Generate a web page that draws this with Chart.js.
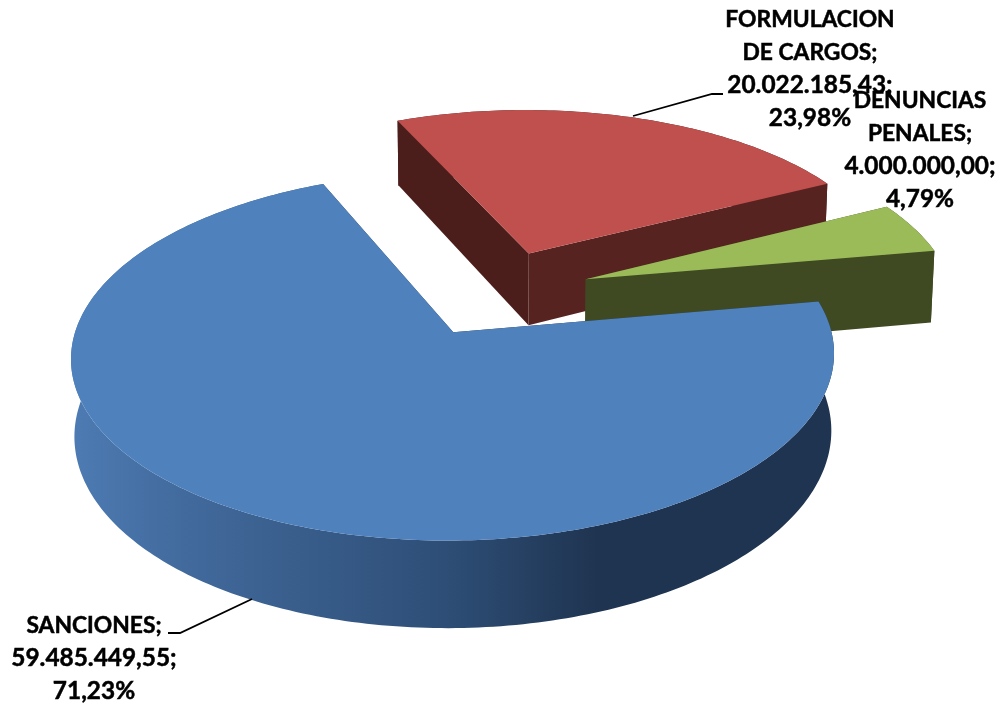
<!DOCTYPE html>
<html>
<head>
<meta charset="utf-8">
<title>Pie</title>
<script src="https://cdn.jsdelivr.net/npm/chart.js@4/dist/chart.umd.js"></script>
<style>
  body { margin: 0; background: #fff; }
  canvas { display: block; }
</style>
</head>
<body>
<canvas id="myChart" width="998" height="704"></canvas>
<script>
var categories = ["SANCIONES", "FORMULACION DE CARGOS", "DENUNCIAS PENALES"];
var amounts = [59485449.55, 20022185.43, 4000000.00];

var labelLines = [["SANCIONES;"], ["FORMULACION", "DE CARGOS;"], ["DENUNCIAS", "PENALES;"]];
var labelCenterX = [94, 810, 920];
var labelFirstBaseline = [633, 27, 108];
var lineStep = 33;
var leaderLines = [
  [[252, 599], [180, 633], [168, 633]],
  [[633, 116], [712, 94], [723, 94]],
  null
];

var topColors = ["#4f81bd", "#c0504d", "#9bbb59"];
var startWallColors = ["#1f3450", "#4b1e1c", "#3f4a22"];
var endWallColors = ["#1f3450", "#572321", "#3f4a22"];
var rimColors = [null, "#4b1e1c", "#3f4a22"];

// fake 3d camera for the flat pie
var camX = 498.5, camY = 293, camA = 367.5, camB = 171, camP = 0.127, pieDepth = 74, floorShrink = 0.992;

function project(el, angle, r) {
  var R = el.outerRadius;
  var mid = (el.startAngle + el.endAngle) / 2;
  var off = el.options.offset;
  var u = (off * Math.cos(mid) + r * Math.cos(angle)) / R;
  var v = (off * Math.sin(mid) + r * Math.sin(angle)) / R;
  var w = 1 / (1 - camP * v);
  return { x: camX + camA * u * w, y: camY + camB * v * w, d: pieDepth * w };
}

// same point on the underside of the slice
function dropped(p) {
  return { x: camX + (p.x - camX) * floorShrink, y: p.y + p.d };
}

function rimPoints(el) {
  var pts = [];
  var steps = Math.ceil((el.endAngle - el.startAngle) * 180 / Math.PI);
  for (var i = 0; i <= steps; i++) {
    var a = el.startAngle + (el.endAngle - el.startAngle) * i / steps;
    pts.push(project(el, a, el.outerRadius));
  }
  return pts;
}

function fillPoly(ctx, pts, color) {
  ctx.beginPath();
  pts.forEach(function(p, i) {
    if (i == 0) ctx.moveTo(p.x, p.y);
    else ctx.lineTo(p.x, p.y);
  });
  ctx.closePath();
  ctx.fillStyle = color;
  ctx.fill();
}

function wallPoly(a, b) {
  return [a, b, dropped(b), dropped(a)];
}

function blueRimGradient(ctx) {
  var g = ctx.createLinearGradient(71, 0, 835, 0);
  g.addColorStop(0, "#4d7bb3");
  g.addColorStop(0.16, "#41699b");
  g.addColorStop(0.5, "#2d4d75");
  g.addColorStop(0.69, "#1f3450");
  g.addColorStop(1, "#1f3450");
  return g;
}

var pie3d = {
  id: "pie3d",
  beforeDatasetsDraw: function(chart) {
    var ctx = chart.ctx;
    var arcs = chart.getDatasetMeta(0).data;
    var order = arcs.map(function(el, i) { return i; });
    // back slices first
    order.sort(function(a, b) {
      return Math.sin((arcs[a].startAngle + arcs[a].endAngle) / 2) - Math.sin((arcs[b].startAngle + arcs[b].endAngle) / 2);
    });
    order.forEach(function(i) {
      var el = arcs[i];
      var rim = rimPoints(el);
      var apex = project(el, el.startAngle, 0);
      var rimFill = rimColors[i] || blueRimGradient(ctx);
      var lower = rim.map(dropped).reverse();
      fillPoly(ctx, rim.concat(lower), rimFill);
      fillPoly(ctx, wallPoly(apex, rim[0]), startWallColors[i]);
      fillPoly(ctx, wallPoly(apex, rim[rim.length - 1]), endWallColors[i]);
      fillPoly(ctx, [apex].concat(rim), topColors[i]);
    });
    return false;
  },
  afterDraw: function(chart) {
    var ctx = chart.ctx;
    var total = amounts.reduce(function(s, n) { return s + n; }, 0);
    ctx.save();
    ctx.strokeStyle = "#000";
    ctx.lineWidth = 1.8;
    leaderLines.forEach(function(line) {
      if (!line) return;
      ctx.beginPath();
      line.forEach(function(p, i) {
        if (i == 0) ctx.moveTo(p[0], p[1]);
        else ctx.lineTo(p[0], p[1]);
      });
      ctx.stroke();
    });
    ctx.fillStyle = "#000";
    ctx.textAlign = "center";
    ctx.textBaseline = "alphabetic";
    ctx.lineWidth = 0.5;
    amounts.forEach(function(amount, i) {
      var names = labelLines[i];
      var lines = names.concat([formatAmount(amount) + ";", formatPercent(amount / total)]);
      lines.forEach(function(text, n) {
        // Lato digits run narrower than the original font
        ctx.font = n < names.length ? "bold 22.8px Lato" : "bold 24.4px Lato";
        var y = labelFirstBaseline[i] + n * lineStep;
        ctx.fillText(text, labelCenterX[i], y);
        ctx.strokeText(text, labelCenterX[i], y);
      });
    });
    ctx.restore();
  }
};

function formatAmount(n) {
  var parts = n.toFixed(2).split(".");
  return parts[0].replace(/\B(?=(\d{3})+$)/g, ".") + "," + parts[1];
}

function formatPercent(n) {
  return (n * 100).toFixed(2).replace(".", ",") + "%";
}

var ctx = document.getElementById("myChart").getContext("2d");
var myChart = new Chart(ctx, {
  type: "pie",
  data: {
    labels: categories,
    datasets: [{
      data: amounts,
      backgroundColor: topColors,
      borderWidth: 0,
      offset: 79
    }]
  },
  options: {
    responsive: false,
    animation: false,
    rotation: 80,
    plugins: {
      legend: { display: false },
      tooltip: { enabled: false }
    }
  },
  plugins: [pie3d]
});
</script>
</body>
</html>
